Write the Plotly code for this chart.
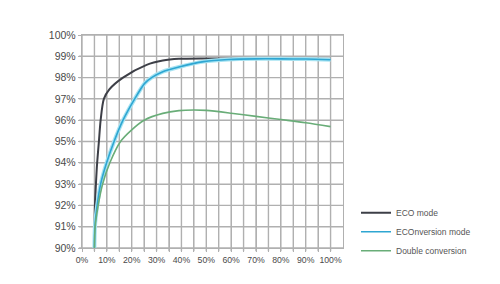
import plotly.graph_objects as go

# Load (%) and efficiency (%) per operating mode
eco_load = [5, 5.05, 5.2, 5.6, 6.1, 6.8, 7.5, 8.8, 11, 16.5, 26, 32.5, 39, 50, 70, 100]
eco_eff = [90, 91, 92, 93, 94, 95, 96, 97, 97.45, 98, 98.6, 98.8, 98.88, 98.9, 98.9, 98.88]

econv_load = [5, 5.2, 6.1, 7.5, 9.9, 12.9, 16.5, 21.2, 25.2, 28, 32.5, 39, 49, 59, 70, 80, 90, 100]
econv_eff = [90, 91, 92, 93, 94, 95, 96, 97, 97.73, 98, 98.28, 98.5, 98.75, 98.85, 98.88, 98.88, 98.87, 98.84]

dc_load = [5, 5.3, 6.5, 8.3, 11.2, 15.5, 20, 25, 32.5, 39, 45, 50, 60, 70, 80, 90, 100]
dc_eff = [90, 91, 92, 93, 94, 95, 95.55, 96, 96.32, 96.45, 96.48, 96.46, 96.33, 96.18, 96.03, 95.88, 95.7]

# Tick positions and labels (x gridlines every 5 %, labelled every 10 %)
x_tick_vals = [0, 5, 10, 15, 20, 25, 30, 35, 40, 45, 50, 55, 60, 65, 70, 75, 80, 85, 90, 95, 100]
x_tick_text = ["0%", "", "10%", "", "20%", "", "30%", "", "40%", "", "50%", "",
               "60%", "", "70%", "", "80%", "", "90%", "", "100%"]
y_tick_vals = [90, 91, 92, 93, 94, 95, 96, 97, 98, 99, 100]
y_tick_text = ["90%", "91%", "92%", "93%", "94%", "95%", "96%", "97%", "98%", "99%", "100%"]

font = "Liberation Sans, Arial, sans-serif"
grid = "#b0b0b0"
grid_w = 1.4

fig = go.Figure()
fig.add_trace(go.Scatter(x=eco_load, y=eco_eff, mode="lines", name="ECO mode",
                         line=dict(color="#3d3f47", width=2, shape="spline", smoothing=0.8)))
fig.add_trace(go.Scatter(x=econv_load, y=econv_eff, mode="lines", showlegend=False,
                         legendgroup="econv", hoverinfo="skip",
                         line=dict(color="#a6e3f2", width=4, shape="spline", smoothing=0.8)))
fig.add_trace(go.Scatter(x=econv_load, y=econv_eff, mode="lines", name="ECOnversion mode",
                         legendgroup="econv",
                         line=dict(color="#2ea6d2", width=1.6, shape="spline", smoothing=0.8)))
fig.add_trace(go.Scatter(x=dc_load, y=dc_eff, mode="lines", name="Double conversion",
                         line=dict(color="#69ad78", width=1.6, shape="spline", smoothing=0.8)))

# Grid lines (with short outside tick stubs) placed at the tick values via the axes
for xv in x_tick_vals:
    fig.add_shape(type="line", xref="x", yref="paper", x0=xv, x1=xv, y0=-0.015, y1=1,
                  line=dict(color=grid, width=grid_w), layer="below")
for yv in y_tick_vals:
    fig.add_shape(type="line", xref="paper", yref="y", x0=-0.012, x1=1, y0=yv, y1=yv,
                  line=dict(color=grid, width=grid_w), layer="below")

fig.update_layout(
    template="none",
    width=500, height=284,
    margin=dict(l=82, r=157, t=35, b=36),
    paper_bgcolor="white", plot_bgcolor="white",
    font=dict(family=font, size=10, color="#4a4a4a"),
    legend=dict(x=0.712, y=0.302, xref="container", yref="container",
                xanchor="left", yanchor="top",
                font=dict(size=8.5, color="#555555"),
                bgcolor="rgba(0,0,0,0)", tracegroupgap=0),
    xaxis=dict(range=[0, 105], tickmode="array", tickvals=x_tick_vals, ticktext=x_tick_text,
               tickangle=0, automargin=False,
               showgrid=True, gridcolor=grid, gridwidth=grid_w,
               ticks="outside", ticklen=3, tickcolor=grid, tickwidth=grid_w,
               showline=True, linecolor=grid, linewidth=grid_w, mirror=True,
               zeroline=False, tickfont=dict(size=8.7)),
    yaxis=dict(range=[90, 100], tickmode="array", tickvals=y_tick_vals, ticktext=y_tick_text,
               automargin=False,
               showgrid=True, gridcolor=grid, gridwidth=grid_w,
               ticks="outside", ticklen=3, tickcolor=grid, tickwidth=grid_w,
               showline=True, linecolor=grid, linewidth=grid_w, mirror=True,
               zeroline=False, tickfont=dict(size=10.5)),
    showlegend=True,
)

fig.write_html("out.html")
